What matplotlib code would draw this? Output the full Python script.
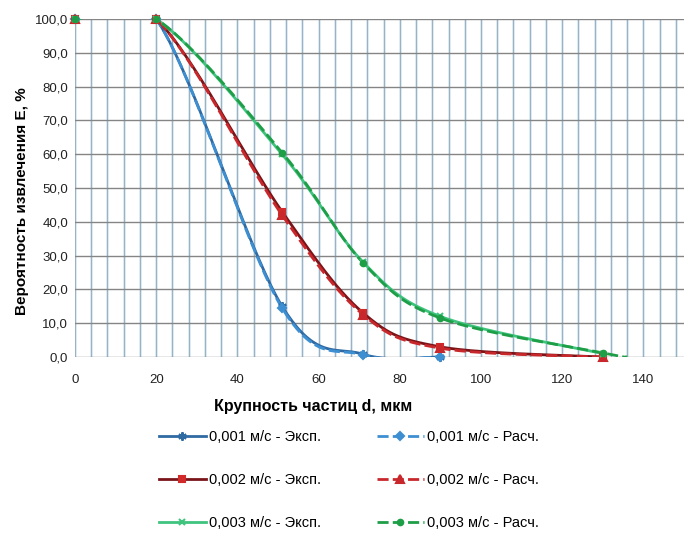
import numpy as np
import matplotlib
matplotlib.use('Agg')
import matplotlib.pyplot as plt
from matplotlib.lines import Line2D

plt.rcParams['font.family'] = ['Liberation Sans', 'DejaVu Sans']

# particle size d, um
d_exp = [0, 20, 51, 71, 90, 130]
d_blue = [0, 20, 51, 71, 90]
d_green_calc = [0, 20, 51, 71, 90, 130, 136]

# recovery probability E, %
blue_exp = [100, 100, 15.0, 0.8, 0.0]
blue_calc = [100, 100, 14.5, 0.6, 0.0]
red_exp = [100, 100, 43.0, 13.0, 3.0, 0.0]
red_calc = [100, 100, 42.0, 12.5, 2.6, 0.0]
green_exp = [100, 100, 60.0, 28.0, 12.0, 1.0]
green_calc = [100, 100, 60.5, 27.8, 11.5, 1.2, 0.0]

x_ticks = [0, 20, 40, 60, 80, 100, 120, 140]
y_ticks = [0, 10, 20, 30, 40, 50, 60, 70, 80, 90, 100]


def smooth(x, y, n=40):
    # Excel-like smoothed line (Catmull-Rom through the points)
    p = np.column_stack([x, y]).astype(float)
    p = np.vstack([p[0], p, p[-1]])
    t = np.linspace(0, 1, n)[:, None]
    out = []
    for i in range(1, len(p) - 2):
        p0, p1, p2, p3 = p[i - 1], p[i], p[i + 1], p[i + 2]
        seg = 0.5 * (2 * p1 + (-p0 + p2) * t + (2 * p0 - 5 * p1 + 4 * p2 - p3) * t ** 2
                     + (-p0 + 3 * p1 - 3 * p2 + p3) * t ** 3)
        out.append(seg)
    s = np.vstack(out)
    return s[:, 0], s[:, 1]


fig = plt.figure(figsize=(6.84, 5.33), dpi=100)
ax = fig.add_axes([75 / 684, 176 / 533, 1 - 75 / 684, 338 / 533])

# grid
for xv in np.arange(0, 151, 4):
    ax.axvline(xv, color='#d6e9f6', lw=2.0, zorder=0)
    ax.axvline(xv, color='#9fb0bd', lw=0.7, zorder=0.5)
for yv in y_ticks:
    ax.axhline(yv, color='#858585', lw=1.0, zorder=0.6)

series = [
    (d_blue, blue_exp, '#2f6aa3', '-', (6, 2, 0), '#2f6aa3', 6, '0,001 м/с - Эксп.'),
    (d_blue, blue_calc, '#3d8fd1', (0, (4, 1.5)), 'D', '#3d8fd1', 4, '0,001 м/с - Расч.'),
    (d_exp, red_exp, '#7a1418', '-', 's', '#d02a2a', 5, '0,002 м/с - Эксп.'),
    (d_exp, red_calc, '#c8282b', (0, (4, 1.5)), '^', '#c8282b', 6, '0,002 м/с - Расч.'),
    (d_exp, green_exp, '#3fc47e', '-', 'x', '#3fc47e', 5, '0,003 м/с - Эксп.'),
    (d_green_calc, green_calc, '#1f9e48', (0, (4, 1.5)), 'o', '#1f9e48', 4, '0,003 м/с - Расч.'),
]

handles = []
for x, y, lc, ls, mk, mc, ms, lab in series:
    sx, sy = smooth(x, y)
    ax.plot(sx, sy, color=lc, ls=ls, lw=2, zorder=3)
    ax.plot(x[:6], y[:6], ls='none', marker=mk, color=mc, ms=ms, mew=1.5, zorder=4, clip_on=False)
    handles.append(Line2D([], [], color=lc, ls=ls, lw=2, marker=mk, markerfacecolor=mc,
                          markeredgecolor=mc, ms=ms, mew=1.5, label=lab))

# order legend row by row (Эксп | Расч)
order = [0, 2, 4, 1, 3, 5]
fig.legend([handles[i] for i in order], [handles[i].get_label() for i in order],
           ncol=2, loc='upper left', bbox_to_anchor=(146 / 684, 1 - 417 / 533),
           frameon=False, fontsize=10.5, handlelength=3.2, handletextpad=0.25,
           labelspacing=2.0, columnspacing=3.8)

ax.set_xlim(0, 150)
ax.set_ylim(0, 100)
ax.set_xticks(x_ticks)
ax.set_yticks(y_ticks)
ax.set_yticklabels([f'{v:.1f}'.replace('.', ',') for v in y_ticks])
ax.tick_params(length=0, labelsize=9.5, colors='#222222', pad=5)
ax.tick_params(axis='x', pad=12)
for s in ax.spines.values():
    s.set_visible(False)

fig.text(313 / 684, 1 - 407 / 533, 'Крупность частиц d, мкм', ha='center', va='center',
         fontsize=11.5, fontweight='bold')
fig.text(22 / 684, 1 - 201 / 533, 'Вероятность извлечения E, %', ha='center', va='center',
         rotation=90, fontsize=11, fontweight='bold')

fig.savefig('out.png', dpi=100)
